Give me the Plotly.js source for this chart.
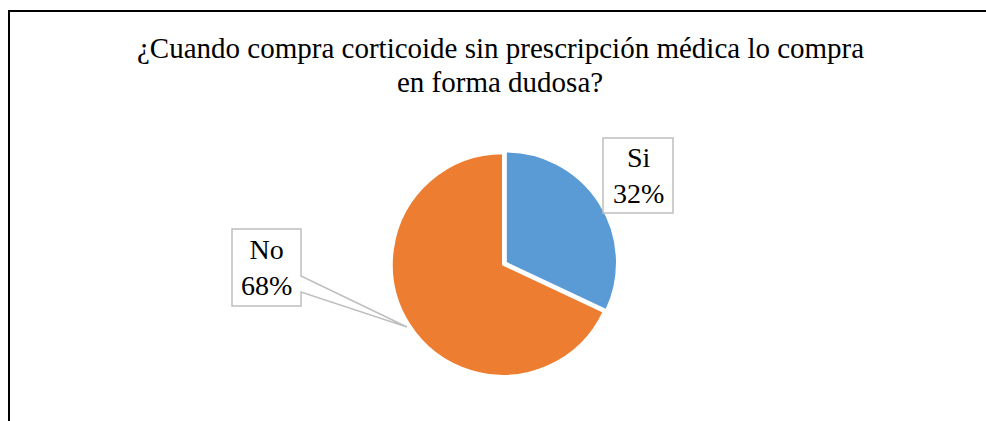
<!DOCTYPE html>
<html>
<head>
<meta charset="utf-8">
<script src="https://cdn.plot.ly/plotly-3.0.1.min.js"></script>
<style>
  html, body { margin: 0; padding: 0; background: #fff; overflow: hidden; }
  #wrap { position: relative; width: 986px; height: 421px; overflow: hidden; }
  #frame { position: absolute; left: 8px; top: 10px; width: 1100px; height: 600px;
           border-left: 2px solid #000; border-top: 2px solid #000; pointer-events: none; z-index: 5; }
  #chart { position: absolute; left: 0; top: 0; width: 986px; height: 421px; }
</style>
</head>
<body>
<div id="wrap">
  <div id="chart"></div>
  <div id="frame"></div>
</div>
<script>
const categories = ["Si", "No"];
const values = [32, 68];
const percentLabels = ["32%", "68%"];
const colors = ["#5B9BD5", "#ED7D31"];
const titleLines = ["¿Cuando compra corticoide sin prescripción médica lo compra", "en forma dudosa?"];

const W = 986, H = 421;
const M = { l: 20, r: 0, t: 150, b: 42 };
const pw = W - M.l - M.r, ph = H - M.t - M.b;
const px = x => (x - M.l) / pw;
const py = y => 1 - (y - M.t) / ph;

const serif = "Liberation Serif";

// callout boxes (layout only)
const siBox = { x0: 603, y0: 138, x1: 673, y1: 213 };
const noBox = { x0: 232, y0: 229, x1: 301, y1: 306 };
const noTip = { x: 407, y: 327 };

function pt(x, y) { return px(x) + "," + py(y); }

const shapes = [
  {
    type: "rect", xref: "paper", yref: "paper",
    x0: px(siBox.x0), x1: px(siBox.x1), y0: py(siBox.y1), y1: py(siBox.y0),
    line: { color: "#BFBFBF", width: 1.5 }, fillcolor: "rgba(255,255,255,0)", layer: "above"
  },
  {
    type: "path", xref: "paper", yref: "paper",
    path: "M" + pt(noBox.x0, noBox.y0) + " L" + pt(noBox.x1, noBox.y0) +
          " L" + pt(noBox.x1, 276) + " L" + pt(noTip.x, noTip.y) +
          " L" + pt(noBox.x1, 292) + " L" + pt(noBox.x1, noBox.y1) +
          " L" + pt(noBox.x0, noBox.y1) + " Z",
    line: { color: "#BFBFBF", width: 1.5 }, fillcolor: "rgba(255,255,255,0)", layer: "above"
  }
];

const annotations = [
  { text: categories[0] + "<br>" + percentLabels[0], x: px((siBox.x0 + siBox.x1) / 2), y: py((siBox.y0 + siBox.y1) / 2) },
  { text: categories[1] + "<br>" + percentLabels[1], x: px((noBox.x0 + noBox.x1) / 2), y: py((noBox.y0 + noBox.y1) / 2) }
].map(a => Object.assign(a, {
  xref: "paper", yref: "paper", showarrow: false, xanchor: "center", yanchor: "middle",
  font: { family: serif, size: 28, color: "#000" }
}));

// title lines as paper annotations (serif, tight line spacing)
const titleY = [48, 82];
titleLines.forEach((t, i) => annotations.push({
  text: t, xref: "paper", yref: "paper",
  x: px(500), y: py(titleY[i]), xanchor: "center", yanchor: "middle",
  showarrow: false, font: { family: serif, size: 29, color: "#000" }
}));

const data = [{
  type: "pie",
  labels: categories,
  values: values,
  sort: false,
  direction: "clockwise",
  rotation: 0,
  pull: [0.03, 0],
  textinfo: "none",
  hoverinfo: "label+percent",
  marker: { colors: colors, line: { color: "#FFFFFF", width: 2 } },
  showlegend: false
}];

const layout = {
  width: W, height: H,
  margin: M,
  paper_bgcolor: "#FFFFFF",
  plot_bgcolor: "#FFFFFF",
  font: { family: serif },
  shapes: shapes,
  annotations: annotations
};

Plotly.newPlot("chart", data, layout, { displayModeBar: false, staticPlot: true });
</script>
</body>
</html>
